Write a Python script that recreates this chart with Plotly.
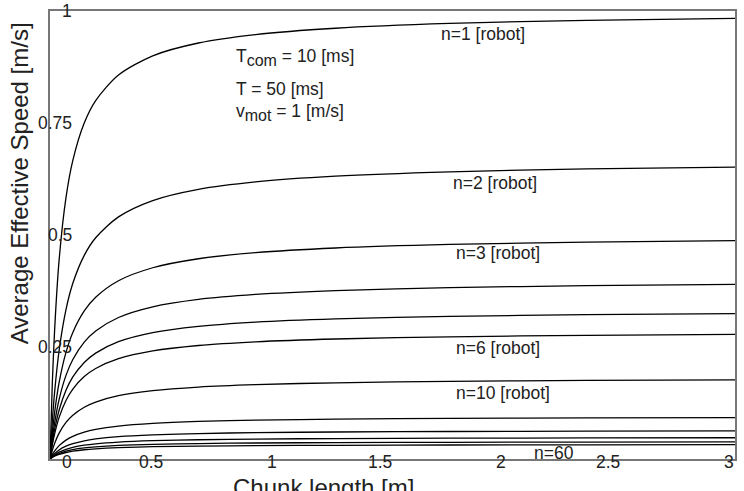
import plotly.graph_objects as go

# Chunk length samples [m]
chunk_length = [0, 0.01, 0.02, 0.04, 0.07, 0.1, 0.15, 0.2, 0.3, 0.45, 0.65, 0.9, 1.25, 1.75, 2.35, 3.0]

# Average effective speed [m/s] per number of robots
n_robots = [1, 2, 3, 4, 5, 6, 10, 20, 30, 40, 50, 60]
speed_n1 = [0, 0.1667, 0.2857, 0.4444, 0.5833, 0.6667, 0.75, 0.80, 0.8571, 0.90, 0.9286, 0.9474, 0.9615, 0.9722, 0.9792, 0.9836]
speed_n2 = [0, 0.0833, 0.1481, 0.2424, 0.3333, 0.3922, 0.4545, 0.4938, 0.5405, 0.5769, 0.6019, 0.6186, 0.6313, 0.6410, 0.6474, 0.6515]
speed_n3 = [0, 0.0575, 0.1031, 0.1709, 0.2381, 0.2825, 0.3304, 0.3610, 0.3979, 0.4269, 0.4470, 0.4606, 0.4710, 0.4789, 0.4841, 0.4875]
speed_n4 = [0, 0.0444, 0.0800, 0.1333, 0.1867, 0.2222, 0.2609, 0.2857, 0.3158, 0.3396, 0.3562, 0.3673, 0.3759, 0.3825, 0.3868, 0.3896]
speed_n5 = [0, 0.0362, 0.0654, 0.1093, 0.1535, 0.1832, 0.2155, 0.2364, 0.2618, 0.2820, 0.2960, 0.3055, 0.3128, 0.3184, 0.3221, 0.3245]
speed_n6 = [0, 0.0307, 0.0555, 0.0929, 0.1307, 0.1561, 0.1839, 0.2019, 0.2238, 0.2412, 0.2534, 0.2616, 0.2679, 0.2728, 0.2760, 0.2780]
speed_n10 = [0, 0.0189, 0.0343, 0.0577, 0.0816, 0.0977, 0.1156, 0.1271, 0.1413, 0.1526, 0.1606, 0.1660, 0.1701, 0.1733, 0.1754, 0.1767]
speed_n20 = [0, 0.0097, 0.0176, 0.0298, 0.0422, 0.0506, 0.0600, 0.0661, 0.0736, 0.0796, 0.0839, 0.0867, 0.0889, 0.0906, 0.0918, 0.0925]
speed_n30 = [0, 0.0066, 0.0119, 0.0202, 0.0286, 0.0343, 0.0407, 0.0448, 0.0499, 0.0539, 0.0568, 0.0588, 0.0603, 0.0614, 0.0622, 0.0627]
speed_n40 = [0, 0.0050, 0.0090, 0.0153, 0.0216, 0.0260, 0.0308, 0.0339, 0.0377, 0.0408, 0.0430, 0.0445, 0.0456, 0.0465, 0.0470, 0.0474]
speed_n50 = [0, 0.0040, 0.0073, 0.0123, 0.0174, 0.0209, 0.0247, 0.0272, 0.0303, 0.0328, 0.0345, 0.0357, 0.0366, 0.0373, 0.0378, 0.0381]
speed_n60 = [0, 0.0033, 0.0061, 0.0103, 0.0145, 0.0174, 0.0207, 0.0228, 0.0254, 0.0274, 0.0289, 0.0299, 0.0306, 0.0312, 0.0316, 0.0319]

all_speeds = [speed_n1, speed_n2, speed_n3, speed_n4, speed_n5, speed_n6,
              speed_n10, speed_n20, speed_n30, speed_n40, speed_n50, speed_n60]

x_ticks = [0, 0.5, 1, 1.5, 2, 2.5, 3]
x_tick_labels = ["0", "0.5", "1", "1.5", "2", "2.5", "3"]
y_ticks = [0.25, 0.5, 0.75, 1]
y_tick_labels = ["0.25", "0.5", "0.75", "1"]

FONT = "Liberation Sans, Arial, Helvetica, sans-serif"
TXT = "#222222"
FS = 17.5

fig = go.Figure()
for n, s in zip(n_robots, all_speeds):
    fig.add_trace(go.Scatter(x=chunk_length, y=s, mode="lines",
                             line=dict(color="black", width=1.3, shape="spline", smoothing=0.8),
                             name=f"n={n}", showlegend=False, hoverinfo="skip"))

ann = []
# x tick labels (right aligned at tick, straddling axis line)
for v, t in zip(x_ticks, x_tick_labels):
    ann.append(dict(x=v, y=0, xref="x", yref="y", text=t, showarrow=False,
                    xanchor="right", yanchor="middle", xshift=(24 if v == 0 else 1), yshift=-3,
                    font=dict(size=FS, color=TXT, family=FONT)))
# y tick labels
for v, t in zip(y_ticks, y_tick_labels):
    ann.append(dict(x=0, y=v, xref="x", yref="y", text=t, showarrow=False,
                    xanchor="right", yanchor="middle", xshift=24, yshift=0,
                    font=dict(size=FS, color=TXT, family=FONT)))

# axis titles
ann.append(dict(x=-0.044, y=0.615, xref="paper", yref="paper", text="Average Effective Speed [m/s]",
                textangle=-90, showarrow=False, xanchor="center", yanchor="middle",
                font=dict(size=24, color=TXT, family=FONT)))
ann.append(dict(x=0.399, y=-0.064, xref="paper", yref="paper", text="Chunk length [m]",
                showarrow=False, xanchor="center", yanchor="middle",
                font=dict(size=24, color=TXT, family=FONT)))

# parameter text
SUB = "<sub><span style='font-size:16px'>{}</span></sub>"
params = [("T" + SUB.format("com") + " = 10 [ms]", 0.896),
          ("T = 50 [ms]", 0.826),
          ("v" + SUB.format("mot") + " = 1 [m/s]", 0.774)]
for t, yy in params:
    ann.append(dict(x=0.269, y=yy, xref="paper", yref="paper", text=t, showarrow=False,
                    xanchor="left", yanchor="middle", font=dict(size=FS, color=TXT, family=FONT)))

# curve labels
curve_labels = [("n=1 [robot]", 1.703, 0.949), ("n=2 [robot]", 1.758, 0.616),
                ("n=3 [robot]", 1.769, 0.460), ("n=6 [robot]", 1.769, 0.248),
                ("n=10 [robot]", 1.769, 0.147), ("n=60", 2.109, 0.0134)]
for t, xx, yy in curve_labels:
    ann.append(dict(x=xx, y=yy, xref="x", yref="y", text=t, showarrow=False,
                    xanchor="left", yanchor="middle", font=dict(size=FS, color=TXT, family=FONT)))

fig.update_layout(
    width=744, height=491,
    margin=dict(l=50, r=7, t=11, b=32),
    paper_bgcolor="white", plot_bgcolor="white",
    annotations=ann,
    xaxis=dict(range=[0, 3], showgrid=False, zeroline=False, showticklabels=False, ticks="",
               showline=True, mirror=True, linecolor="#777777", linewidth=1.5),
    yaxis=dict(range=[0, 1], showgrid=False, zeroline=False, showticklabels=False, ticks="",
               showline=True, mirror=True, linecolor="#777777", linewidth=1.5),
)
fig.write_html("out.html")
